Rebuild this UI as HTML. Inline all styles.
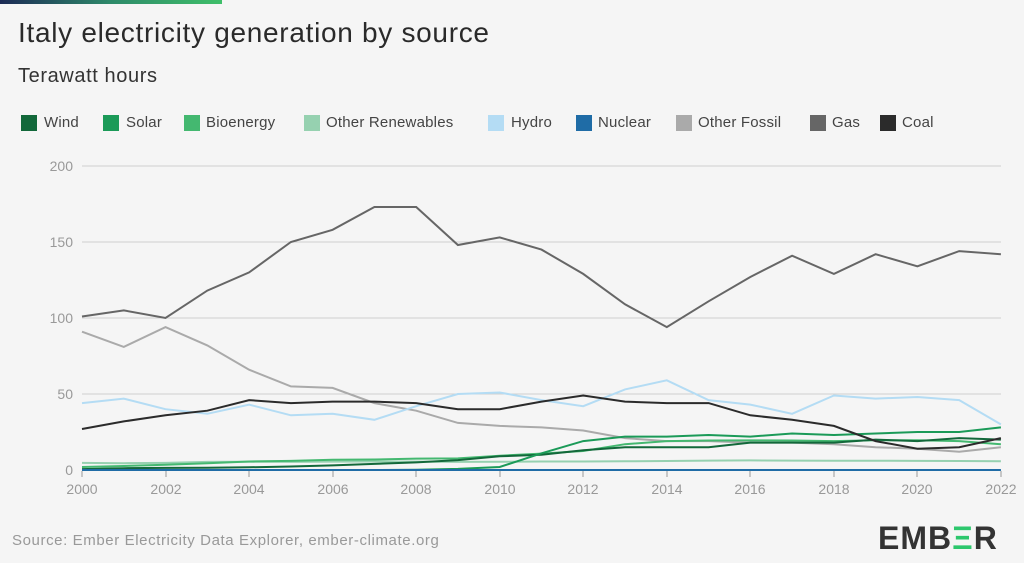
<!DOCTYPE html>
<html><head><meta charset="utf-8"><style>
body{margin:0;width:1024px;height:563px;background:#f5f5f5;font-family:"Liberation Sans",sans-serif;overflow:hidden;position:relative}
.bar{position:absolute;left:0;top:0;width:222px;height:4px;background:linear-gradient(90deg,#1c2a55,#2e8a6a,#3fbf6a)}
h1{position:absolute;left:18px;top:17px;margin:0;font-size:28px;font-weight:normal;color:#2a2a2a;letter-spacing:0.7px}
.sub{position:absolute;left:18px;top:65px;font-size:20px;color:#333;letter-spacing:0.6px}
.leg span{position:absolute;top:114px;font-size:15px;color:#444;letter-spacing:0.2px;line-height:17px}
.leg i{position:absolute;width:16px;height:16px;top:115px}
.src{position:absolute;left:12px;top:532px;font-size:15px;color:#999;letter-spacing:0.6px}
.logo{position:absolute;left:878px;top:520px;font-size:32px;font-weight:bold;color:#333;letter-spacing:1px}
</style></head><body>
<div class="bar"></div>
<h1>Italy electricity generation by source</h1>
<div class="sub">Terawatt hours</div>
<div class="leg">
<i style="left:21px;background:#12683a"></i><span style="left:44px">Wind</span>
<i style="left:103px;background:#1b9a58"></i><span style="left:126px">Solar</span>
<i style="left:184px;background:#44b870"></i><span style="left:206px">Bioenergy</span>
<i style="left:304px;background:#96d1b0"></i><span style="left:326px">Other Renewables</span>
<i style="left:488px;background:#b4dcf4"></i><span style="left:511px">Hydro</span>
<i style="left:576px;background:#1f6ca6"></i><span style="left:598px">Nuclear</span>
<i style="left:676px;background:#aaaaaa"></i><span style="left:698px">Other Fossil</span>
<i style="left:810px;background:#666666"></i><span style="left:832px">Gas</span>
<i style="left:880px;background:#2b2b2b"></i><span style="left:902px">Coal</span>
</div>
<svg id="c" width="1024" height="563" style="position:absolute;left:0;top:0" font-family="Liberation Sans, sans-serif">
<g stroke="#d0d0d0" stroke-width="1">
<line x1="82" x2="1001" y1="166" y2="166"/><line x1="82" x2="1001" y1="242" y2="242"/>
<line x1="82" x2="1001" y1="318" y2="318"/><line x1="82" x2="1001" y1="394" y2="394"/>
</g>
<g fill="#999" font-size="14" text-anchor="end">
<text x="73" y="171">200</text><text x="73" y="247">150</text><text x="73" y="323">100</text><text x="73" y="399">50</text><text x="73" y="475">0</text>
</g>
<g fill="#999" font-size="14" text-anchor="middle">
<text x="82" y="494">2000</text><text x="166" y="494">2002</text><text x="249" y="494">2004</text><text x="333" y="494">2006</text><text x="416" y="494">2008</text><text x="500" y="494">2010</text><text x="583" y="494">2012</text><text x="667" y="494">2014</text><text x="750" y="494">2016</text><text x="834" y="494">2018</text><text x="917" y="494">2020</text><text x="1001" y="494">2022</text>
</g>
<g id="lines" fill="none" stroke-width="2"></g>
<g stroke="#999"><line x1="82" x2="82" y1="471" y2="477"/><line x1="166" x2="166" y1="471" y2="477"/><line x1="249" x2="249" y1="471" y2="477"/><line x1="333" x2="333" y1="471" y2="477"/><line x1="416" x2="416" y1="471" y2="477"/><line x1="500" x2="500" y1="471" y2="477"/><line x1="583" x2="583" y1="471" y2="477"/><line x1="667" x2="667" y1="471" y2="477"/><line x1="750" x2="750" y1="471" y2="477"/><line x1="834" x2="834" y1="471" y2="477"/><line x1="917" x2="917" y1="471" y2="477"/><line x1="1001" x2="1001" y1="471" y2="477"/></g>
</svg>
<div class="src">Source: Ember Electricity Data Explorer, ember-climate.org</div>
<div class="logo">EMB<span style="color:#2dc76d">Ξ</span>R</div>
<script>
var S=[
["#96d1b0",[4.7,4.5,4.7,5.3,5.4,5.3,5.5,5.6,5.5,5.3,5.4,5.6,5.6,5.7,5.9,6.2,6.3,6.2,6.1,6.1,6,5.9,5.8]],
["#aaaaaa",[91,81,94,82,66,55,54,44,39,31,29,28,26,21,19,19,18,18,17,15,14,12,15]],
["#b4dcf4",[44,47,40,37,43,36,37,33,42,50,51,46,42,53,59,46,43,37,49,47,48,46,30]],
["#44b870",[2,2.6,3.4,4.5,5.6,6,6.7,6.9,7.5,7.6,9.4,10.8,12.5,17,19,19.4,19.5,19.4,19,19.6,19.6,19,17]],
["#12683a",[0.6,1.2,1.4,1.5,1.8,2.3,3,4,5,6.5,9,10,13,15,15,15,18,18,18,20,19,21,20]],
["#1b9a58",[0,0,0,0,0,0,0,0,0.2,0.7,2,11,19,22,22,23,22,24,23,24,25,25,28]],
["#666666",[101,105,100,118,130,150,158,173,173,148,153,145,129,109,94,111,127,141,129,142,134,144,142]],
["#2b2b2b",[27,32,36,39,46,44,45,45,44,40,40,45,49,45,44,44,36,33,29,19,14,15,21]],
["#1f6ca6",[0,0,0,0,0,0,0,0,0,0,0,0,0,0,0,0,0,0,0,0,0,0,0]]];
var g=document.getElementById('lines');
S.forEach(function(s){var p=s[1].map(function(v,i){return (82+i*41.77).toFixed(1)+','+(470-v*1.52).toFixed(1)}).join(' ');
var e=document.createElementNS('http://www.w3.org/2000/svg','polyline');e.setAttribute('points',p);e.setAttribute('stroke',s[0]);g.appendChild(e);});
</script>
</body></html>
